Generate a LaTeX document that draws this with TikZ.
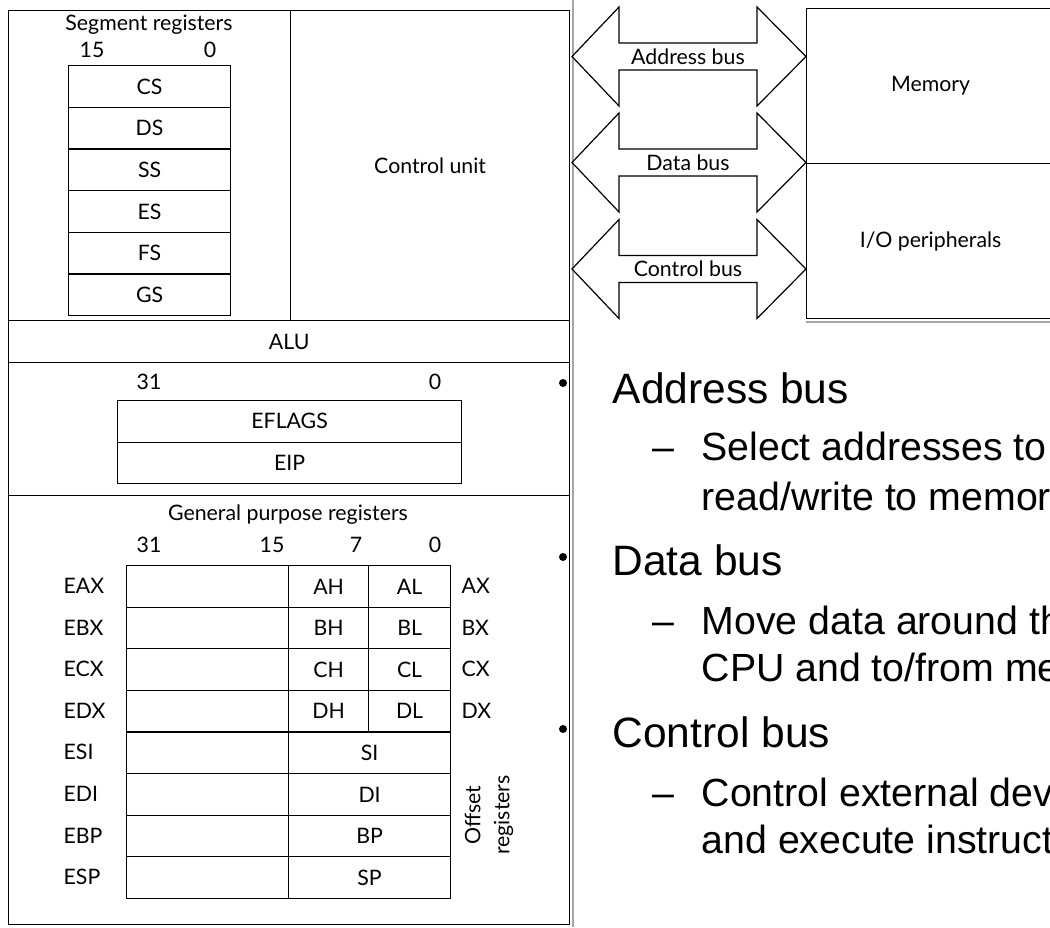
\documentclass[tikz,border=0pt]{standalone}
\usepackage{fontspec}
\setmainfont{Lato}
\newfontfamily\arialfont{Liberation Sans}
\begin{document}
\begin{tikzpicture}[x=1pt,y=-1pt,
  line width=1.3pt,
  lbl/.style={font=\fontsize{21.3}{29}\selectfont, inner sep=0pt},
  region/.style={draw, line width=1.3pt, inner sep=0pt, anchor=north west, font=\fontsize{21.3}{25}\selectfont},
  cell/.style={draw, line width=1.2pt, inner sep=0pt, anchor=north west, font=\fontsize{21.3}{25}\selectfont},
  bus/.style={draw, line width=1.2pt, fill=white, line join=miter},
  scan/.style={draw=black!35, line width=2.2pt},
  dot/.style={circle, fill=black, inner sep=0pt, minimum size=8pt},
  mainf/.style={font=\arialfont\fontsize{42.5}{48}\selectfont, inner sep=0pt, anchor=base west},
  subf/.style={font=\arialfont\fontsize{39.3}{44}\selectfont, inner sep=0pt, anchor=base west},
]
\path[use as bounding box] (0,0) rectangle (1050,927);
\clip (0,0) rectangle (1050,927);

% scan edges
\draw[scan] (573,0) -- (573,927);
\draw[scan] (806,322) -- (1050,322);

% CPU regions
\node[region, minimum width=282pt, minimum height=310pt] (segarea) at (8,10) {};
\node[region, minimum width=279pt, minimum height=310pt] (cu) at (290,10) {Control unit};
\node[region, minimum width=561pt, minimum height=42pt] (alu) at (8,320) {ALU};
\node[region, minimum width=561pt, minimum height=133pt] (flagarea) at (8,362) {};
\node[region, minimum width=561pt, minimum height=429pt] (gparea) at (8,495) {};

% segment registers
\node[lbl] (segt) at (149,25) {Segment registers};
\node[lbl] (seg15) at (92,50) {15};
\node[lbl] (seg0) at (210,50) {0};
\foreach \n [count=\i from 0] in {CS,DS,SS,ES,FS,GS}
  \node[cell, minimum width=162pt, minimum height=41.67pt] (seg\n) at (68,{65+41.67*\i}) {\n};

% flags
\node[lbl] (f31) at (149,382) {31};
\node[lbl] (f0) at (435,382) {0};
\node[cell, minimum width=344pt, minimum height=41.5pt] (eflags) at (117,400) {EFLAGS};
\node[cell, minimum width=344pt, minimum height=41.5pt] (eip) at (117,441.5) {EIP};

% general purpose registers
\node[lbl] (gpt) at (288,515) {General purpose registers};
\node[lbl] (g31) at (149,545) {31};
\node[lbl] (g15) at (272,545) {15};
\node[lbl] (g7) at (356,545) {7};
\node[lbl] (g0) at (435,545) {0};
\foreach \r/\h/\l [count=\i from 0] in {A/AH/AL,B/BH/BL,C/CH/CL,D/DH/DL}{
  \node[cell, minimum width=162pt, minimum height=41.6pt] (hi\r) at (126,{565+41.6*\i}) {};
  \node[cell, minimum width=80pt, minimum height=41.6pt] (h\r) at (288,{565+41.6*\i}) {\h};
  \node[cell, minimum width=82pt, minimum height=41.6pt] (l\r) at (368,{565+41.6*\i}) {\l};
  \node[lbl, anchor=west] (e\r) at (63,{585.8+41.6*\i}) {E\r X};
  \node[lbl, anchor=west] (x\r) at (461,{585.8+41.6*\i}) {\r X};
}
\foreach \r [count=\i from 4] in {SI,DI,BP,SP}{
  \node[cell, minimum width=162pt, minimum height=41.6pt] (hi\r) at (126,{565+41.6*\i}) {};
  \node[cell, minimum width=162pt, minimum height=41.6pt] (lo\r) at (288,{565+41.6*\i}) {\r};
  \node[lbl, anchor=west] (e\r) at (63,{585.8+41.6*\i}) {E\r};
}
\node[lbl, rotate=90, align=center] (off) at (489,815) {Offset\\registers};

% buses
\foreach \c/\t [count=\i] in {56.5/Address bus,162.5/Data bus,269/Control bus}{
  \draw[bus] (572,\c) -- (619,{\c-49.5}) -- (619,{\c-13.5}) -- (757,{\c-13.5}) -- (757,{\c-49.5})
    -- (806,\c) -- (757,{\c+49.5}) -- (757,{\c+13.5}) -- (619,{\c+13.5}) -- (619,{\c+49.5}) -- cycle;
  \node[lbl] (bus\i) at (688,\c) {\t};
}

% memory / IO
\node[cell, minimum width=248pt, minimum height=155pt] (mem) at (806,8) {Memory};
\node[cell, minimum width=248pt, minimum height=155pt] (io) at (806,163) {I/O peripherals};

% bullets
\node[dot] (b1) at (563,383) {};
\node[dot] (b2) at (563,557) {};
\node[dot] (b3) at (563,729) {};
\node[mainf] (t1) at (612,403) {Address bus};
\node[subf] (d1) at (652,460) {–};
\node[subf] (t1a) at (701,460) {Select addresses to};
\node[subf] (t1b) at (701,510) {read/write to memory};
\node[mainf] (t2) at (612,575) {Data bus};
\node[subf] (d2) at (652,634) {–};
\node[subf] (t2a) at (701,634) {Move data around the};
\node[subf] (t2b) at (701,681) {CPU and to/from memory};
\node[mainf] (t3) at (612,747) {Control bus};
\node[subf] (d3) at (652,806) {–};
\node[subf] (t3a) at (701,806) {Control external devices};
\node[subf] (t3b) at (701,853) {and execute instructions};
\end{tikzpicture}
\end{document}
